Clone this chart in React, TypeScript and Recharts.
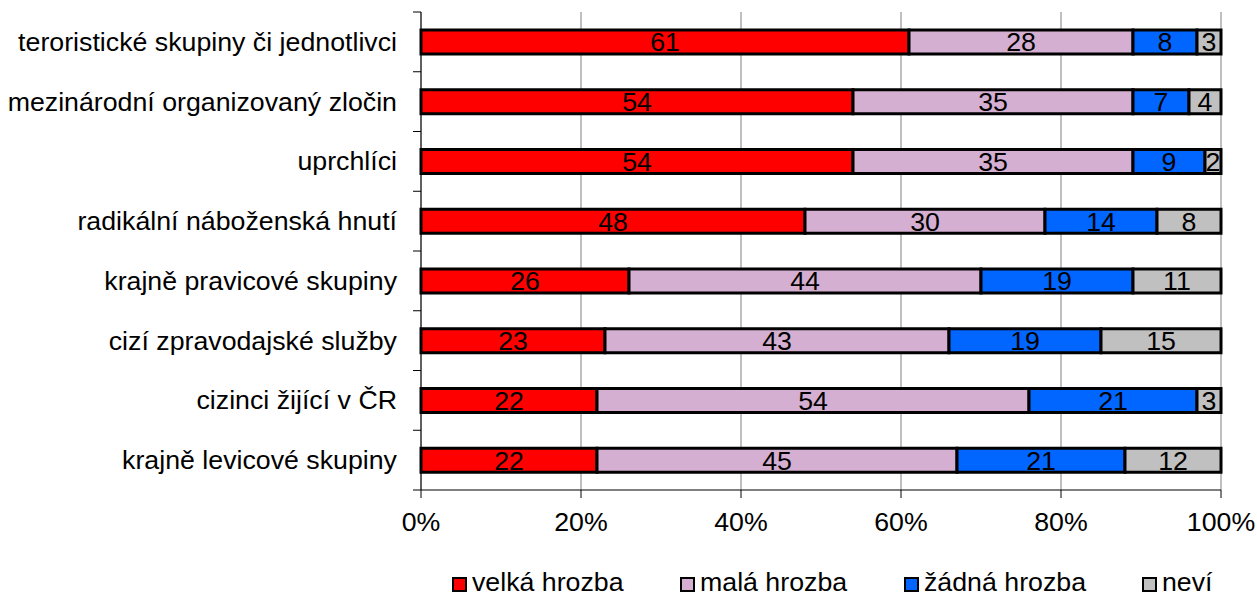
import { BarChart, Bar, XAxis, YAxis, CartesianGrid, Legend, LabelList } from 'recharts'

const categories = [
  'teroristické skupiny či jednotlivci',
  'mezinárodní organizovaný zločin',
  'uprchlíci',
  'radikální náboženská hnutí',
  'krajně pravicové skupiny',
  'cizí zpravodajské služby',
  'cizinci žijící v ČR',
  'krajně levicové skupiny',
]
const velka = [61, 54, 54, 48, 26, 23, 22, 22]
const mala = [28, 35, 35, 30, 44, 43, 54, 45]
const zadna = [8, 7, 9, 14, 19, 19, 21, 21]
const nevi = [3, 4, 2, 8, 11, 15, 3, 12]
const xTicks = [0, 20, 40, 60, 80, 100]

const series = [
  { key: 'velka', name: 'velká hrozba', color: '#FF0000', values: velka },
  { key: 'mala', name: 'malá hrozba', color: '#D4AFD1', values: mala },
  { key: 'zadna', name: 'žádná hrozba', color: '#0066FF', values: zadna },
  { key: 'nevi', name: 'neví', color: '#C0C0C0', values: nevi },
]

const data = categories.map((name, i) => {
  const row: Record<string, string | number> = { name }
  series.forEach((s) => (row[s.key] = s.values[i]))
  return row
})

const W = 1257
const H = 597
const MARGIN = { top: 12, right: 36, left: 0, bottom: 0 }
const Y_AXIS_W = 421
const X_AXIS_H = 63
const LEGEND_H = 44
const BAND = (H - MARGIN.top - MARGIN.bottom - X_AXIS_H - LEGEND_H) / categories.length
const FONT = '"Liberation Sans", Arial, sans-serif'
const FS = 25
const SX = 1.07 // the original text is a bit wider than it is tall

function StretchText({ x, y, anchor = 'middle', children }: any) {
  return (
    <text
      transform={`translate(${x},${y}) scale(${SX},1)`}
      textAnchor={anchor}
      fontSize={FS}
      fontFamily={FONT}
      fill="#000"
    >
      {children}
    </text>
  )
}

function CategoryTick({ x, y, payload, index }: any) {
  const half = BAND / 2
  return (
    <g>
      <line x1={x} x2={x + 8} y1={y - half} y2={y - half} stroke="#000" />
      {index === categories.length - 1 && <line x1={x} x2={x + 8} y1={y + half} y2={y + half} stroke="#000" />}
      <StretchText x={x - 16} y={y + FS * 0.36} anchor="end">
        {payload.value}
      </StretchText>
    </g>
  )
}

function PercentTick({ x, y, payload }: any) {
  return (
    <StretchText x={x} y={y + 33}>
      {payload.value}%
    </StretchText>
  )
}

function SegmentLabel({ x, y, width, height, value }: any) {
  return (
    <StretchText x={x + width / 2} y={y + height / 2 + FS * 0.37}>
      {value}
    </StretchText>
  )
}

const legendX = [452, 680, 904, 1142]

function LegendBox() {
  return (
    <svg width={W} height={LEGEND_H} style={{ display: 'block' }}>
      {series.map((s, i) => (
        <g key={s.key}>
          <rect x={legendX[i] + 1} y={25} width={13} height={13} fill={s.color} stroke="#000" strokeWidth={2} />
          <StretchText x={legendX[i] + 20} y={38} anchor="start">
            {s.name}
          </StretchText>
        </g>
      ))}
    </svg>
  )
}

export default function App() {
  return (
    <div style={{ position: 'absolute', left: 0, top: 0, background: '#fff' }}>
      <BarChart width={W} height={H} data={data} layout="vertical" margin={MARGIN} barSize={24}>
        <CartesianGrid horizontal={false} stroke="#808080" />
        <XAxis
          type="number"
          domain={[0, 100]}
          ticks={xTicks}
          interval={0}
          height={X_AXIS_H}
          tickSize={8}
          tickMargin={0}
          axisLine={{ stroke: '#000' }}
          tickLine={{ stroke: '#000' }}
          tick={<PercentTick />}
        />
        <XAxis
          xAxisId="top"
          orientation="top"
          type="number"
          domain={[0, 100]}
          height={0}
          tick={false}
          tickLine={false}
          axisLine={{ stroke: '#808080' }}
        />
        <YAxis
          type="category"
          dataKey="name"
          width={Y_AXIS_W}
          tickSize={8}
          tickMargin={0}
          tickLine={false}
          axisLine={{ stroke: '#000' }}
          interval={0}
          tick={<CategoryTick />}
        />
        <Legend verticalAlign="bottom" wrapperStyle={{ left: 0, width: W }} content={() => <LegendBox />} />
        {series.map((s) => (
          <Bar
            key={s.key}
            dataKey={s.key}
            name={s.name}
            stackId="a"
            fill={s.color}
            stroke="#000"
            strokeWidth={3}
            isAnimationActive={false}
          >
            <LabelList dataKey={s.key} content={<SegmentLabel />} />
          </Bar>
        ))}
      </BarChart>
    </div>
  )
}
